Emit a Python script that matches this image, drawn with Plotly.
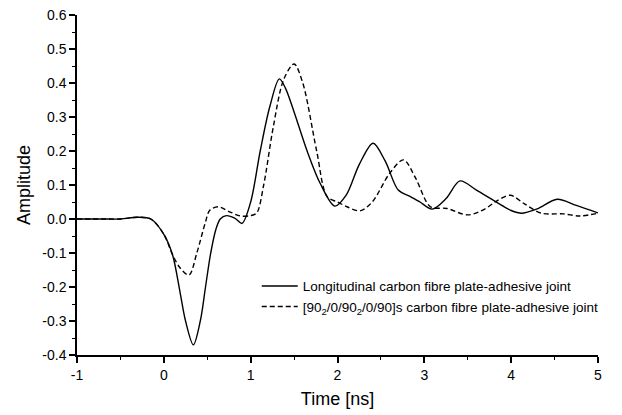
import plotly.graph_objects as go

# Solid: Longitudinal carbon fibre plate-adhesive joint
x_long = [-1.0, -0.7, -0.5, -0.3, -0.15, 0.0, 0.1, 0.19, 0.25, 0.34, 0.42, 0.48, 0.54, 0.6, 0.65,
          0.72, 0.82, 0.9, 1.0, 1.11, 1.22, 1.33, 1.4, 1.5, 1.65, 1.8, 1.97, 2.1, 2.25, 2.41,
          2.55, 2.7, 2.84, 2.95, 3.09, 3.25, 3.41, 3.6, 3.82, 4.0, 4.12, 4.3, 4.53, 4.75, 5.0]
y_long = [0.0, 0.0, 0.0, 0.005, 0.0, -0.045, -0.105, -0.22, -0.30, -0.37, -0.30, -0.20, -0.10, -0.03, 0.0,
          0.01, 0.002, -0.013, 0.05, 0.20, 0.33, 0.412, 0.385, 0.315, 0.20, 0.105, 0.038, 0.07, 0.16, 0.223,
          0.17, 0.085, 0.066, 0.05, 0.029, 0.06, 0.112, 0.085, 0.051, 0.025, 0.017, 0.03, 0.058, 0.04, 0.018]

# Dashed: [90_2/0/90_2/0/90]s carbon fibre plate-adhesive joint
x_cross = [-1.0, -0.7, -0.5, -0.3, -0.15, 0.0, 0.1, 0.19, 0.29, 0.38, 0.475, 0.53, 0.63, 0.75, 0.88,
           1.0, 1.07, 1.15, 1.26, 1.38, 1.5, 1.6, 1.76, 1.88, 2.0, 2.11, 2.26, 2.4, 2.6, 2.76,
           2.9, 3.07, 3.26, 3.5, 3.7, 3.82, 3.99, 4.15, 4.35, 4.6, 4.79, 5.0]
y_cross = [0.0, 0.0, 0.0, 0.005, 0.0, -0.045, -0.105, -0.145, -0.165, -0.10, -0.013, 0.026, 0.036, 0.022, 0.009,
           0.01, 0.018, 0.10, 0.27, 0.41, 0.456, 0.40, 0.20, 0.066, 0.05, 0.036, 0.024, 0.05, 0.134, 0.174,
           0.12, 0.036, 0.031, 0.012, 0.03, 0.051, 0.07, 0.045, 0.017, 0.015, 0.009, 0.017]

x_tickvals = [-1, 0, 1, 2, 3, 4, 5]
x_ticktext = ["-1", "0", "1", "2", "3", "4", "5"]
y_tickvals = [-0.4, -0.3, -0.2, -0.1, 0.0, 0.1, 0.2, 0.3, 0.4, 0.5, 0.6]
y_ticktext = ["-0.4", "-0.3", "-0.2", "-0.1", "0.0", "0.1", "0.2", "0.3", "0.4", "0.5", "0.6"]

name_long = "Longitudinal carbon fibre plate-adhesive joint"
name_cross = "[90<sub>2</sub>/0/90<sub>2</sub>/0/90]s carbon fibre plate-adhesive joint"

fig = go.Figure()
fig.add_trace(go.Scatter(x=x_long, y=y_long, mode="lines", name=name_long,
                         line=dict(color="black", width=1.4, shape="spline", smoothing=0.9)))
fig.add_trace(go.Scatter(x=x_cross, y=y_cross, mode="lines", name=name_cross,
                         line=dict(color="black", width=1.4, dash="5px,3px", shape="spline", smoothing=0.9)))

font_family = "Liberation Sans, Arial, sans-serif"
fig.update_layout(
    width=622, height=415,
    margin=dict(l=77, r=24, t=15, b=60),
    paper_bgcolor="white", plot_bgcolor="white",
    font=dict(family=font_family, color="black", size=14),
    showlegend=True,
    legend=dict(x=0.345, y=0.248, xanchor="left", yanchor="top", bgcolor="rgba(0,0,0,0)",
                font=dict(size=13.5, family=font_family), tracegroupgap=0, itemwidth=36),
    xaxis=dict(range=[-1, 5], tickvals=x_tickvals, ticktext=x_ticktext, showgrid=False, zeroline=False,
               automargin=False,
               showline=True, linecolor="black", linewidth=1.5,
               ticks="outside", ticklen=6, tickwidth=1.5, tickcolor="black",
               minor=dict(ticks="outside", ticklen=3, dtick=0.5, tickcolor="black", tickwidth=1.2),
               title=dict(text="Time [ns]", font=dict(size=18), standoff=11)),
    yaxis=dict(range=[-0.4, 0.6], tickvals=y_tickvals, ticktext=y_ticktext, showgrid=False, zeroline=False,
               automargin=False,
               showline=True, linecolor="black", linewidth=1.5,
               ticks="outside", ticklen=6, tickwidth=1.5, tickcolor="black",
               minor=dict(ticks="outside", ticklen=3, dtick=0.05, tickcolor="black", tickwidth=1.2),
               title=dict(text="Amplitude", font=dict(size=18), standoff=7)),
)

fig.write_html("out.html")
